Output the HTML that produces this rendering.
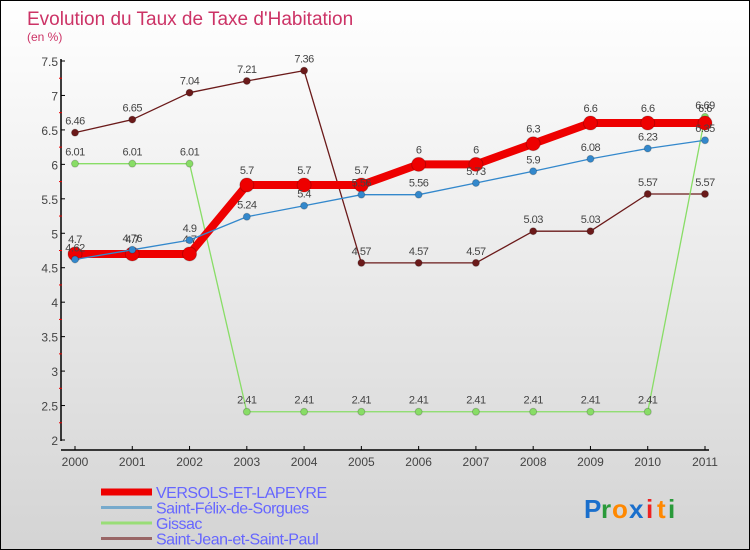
<!DOCTYPE html>
<html><head><meta charset="utf-8"><style>
html,body{margin:0;padding:0}
body{width:750px;height:550px;overflow:hidden;font-family:"Liberation Sans",sans-serif}
#wrap{position:relative;width:748px;height:548px;border:1px solid #000;background:linear-gradient(#fff,#d4d4d4)}
</style></head><body>
<div id="wrap">
<svg id="chart" width="748" height="548" style="position:absolute;left:0;top:0"></svg>
</div>
<script>
const years=["2000","2001","2002","2003","2004","2005","2006","2007","2008","2009","2010","2011"];
const yTicks=[2,2.5,3,3.5,4,4.5,5,5.5,6,6.5,7,7.5];
const versols=[4.7,4.7,4.7,5.7,5.7,5.7,6,6,6.3,6.6,6.6,6.6];
const felix=[4.62,4.76,4.9,5.24,5.4,5.56,5.56,5.73,5.9,6.08,6.23,6.35];
const gissac=[6.01,6.01,6.01,2.41,2.41,2.41,2.41,2.41,2.41,2.41,2.41,6.69];
const sjsp=[6.46,6.65,7.04,7.21,7.36,4.57,4.57,4.57,5.03,5.03,5.57,5.57];
const seriesNames=["VERSOLS-ET-LAPEYRE","Saint-Félix-de-Sorgues","Gissac","Saint-Jean-et-Saint-Paul"];
const NS="http://www.w3.org/2000/svg";
const svg=document.getElementById('chart');
const X=i=>74+i*(630/11);
const Y=v=>439-(v-2)*(379/5.5);
function mk(tag,attrs,parent){const e=document.createElementNS(NS,tag);for(const k in attrs)e.setAttribute(k,attrs[k]);(parent||svg).appendChild(e);return e;}
function txt(s,attrs,parent){const e=mk('text',attrs,parent);e.textContent=s;return e;}
let t=txt("Evolution du Taux de Taxe d'Habitation",{x:26,y:24,'font-size':19,fill:'#cc3366'});


t=txt("(en %)",{x:26,y:40,'font-size':12,fill:'#cc3366'});


// axes
let ax=mk('line',{x1:60,y1:58,x2:60,y2:440,stroke:'#000','stroke-width':1.5});


ax=mk('line',{x1:60,y1:449,x2:708,y2:449,stroke:'#000','stroke-width':1.5});


yTicks.forEach(v=>{
  mk('line',{x1:60,y1:Y(v),x2:64,y2:Y(v),stroke:'#000'});
  if(v<7.5)mk('line',{x1:58,y1:Y(v+0.25),x2:61,y2:Y(v+0.25),stroke:'#e00'});
  const l=txt(String(v),{x:57,y:Y(v)+5,'font-size':12,fill:'#444','text-anchor':'end'});
  
  
});
years.forEach((y,i)=>{
  mk('line',{x1:X(i),y1:445,x2:X(i),y2:449,stroke:'#000'});
  const l=txt(y,{x:X(i),y:465,'font-size':12,fill:'#444','text-anchor':'middle'});
  
  
});
function series(data,color,w,r,name,fmt){
  const g=mk('g',{});
  
  
  mk('polyline',{points:data.map((v,i)=>X(i)+','+Y(v)).join(' '),fill:'none',stroke:color,'stroke-width':w,'stroke-linejoin':'round'},g);
  data.forEach((v,i)=>{
    const c=mk('circle',{cx:X(i),cy:Y(v),r:r,fill:color,stroke:'rgba(0,0,0,0.2)'},g);
    
    
    const l=txt(String(v),{x:X(i),y:Y(v)-8-(r>5?3:0),'font-size':11,fill:'#444','text-anchor':'middle','letter-spacing':'-0.5'},g);
    
    
  });
}
series(sjsp,'#6b1a1a',1.3,3.5,'saint-jean-series');
series(gissac,'#88dd66',1.3,3.5,'gissac-series');
series(versols,'#ee0000',8,7,'versols-series');
series(felix,'#3388cc',1.3,3.5,'saint-felix-series');
// legend
const lc=['#ee0000','#77aacc','#99dd77','#996666'];
const lw=[7,3,3,3];
seriesNames.forEach((n,i)=>{
  const y=491+i*15.5;
  const g=mk('g',{});
  
  
  mk('line',{x1:100,y1:y,x2:151,y2:y,stroke:lc[i],'stroke-width':lw[i]},g);
  txt(n,{x:155,y:y+6,'font-size':16,fill:'#6666ff','letter-spacing':'-0.5'},g);
});
const logo=mk('g',{});


const letters=[['P','#1a6fcc'],['r','#2a9a3a'],['o','#ff8800'],['x','#1a6fcc'],['i','#ee2222'],['t','#ff8800'],['i','#2a9a3a']];
let lx=583;
letters.forEach(([c,col])=>{const e=txt(c,{x:lx,y:517,'font-size':26,fill:col,'font-weight':'bold'},logo);lx+=(c==='i'||c==='t'||c==='r')?11:17;});
</script>
</body></html>
